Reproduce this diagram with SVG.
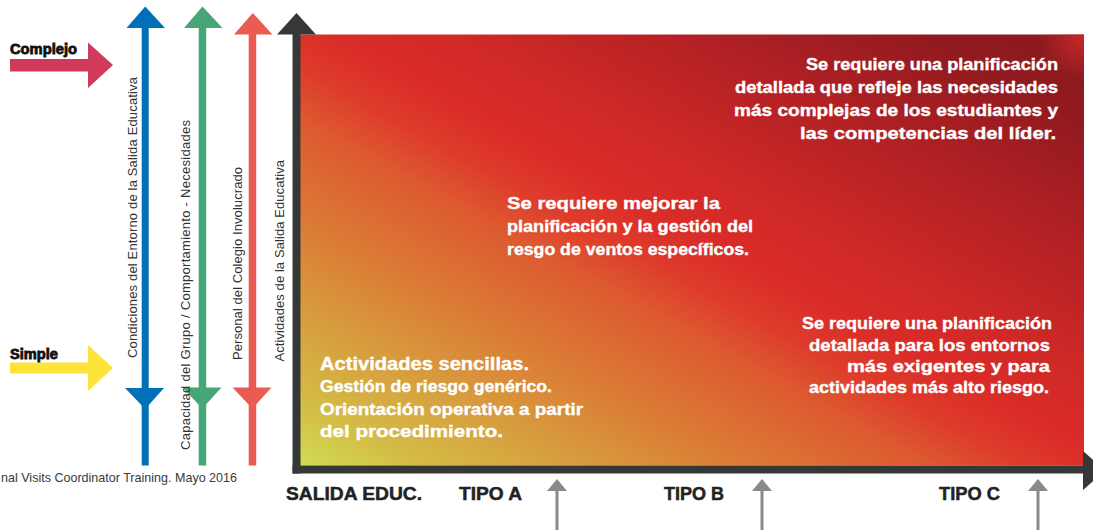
<svg xmlns="http://www.w3.org/2000/svg" width="1093" height="530" viewBox="0 0 1093 530">
<defs>
<linearGradient id="bg" x1="0" y1="1" x2="1" y2="0">
<stop offset="0" stop-color="#cfdc52"/>
<stop offset="0.08" stop-color="#d4bb45"/>
<stop offset="0.2" stop-color="#d8963c"/>
<stop offset="0.3" stop-color="#db7634"/>
<stop offset="0.4" stop-color="#dd5a30"/>
<stop offset="0.46" stop-color="#de3c2b"/>
<stop offset="0.52" stop-color="#da2c28"/>
<stop offset="0.6" stop-color="#d02927"/>
<stop offset="0.76" stop-color="#b02024"/>
<stop offset="0.9" stop-color="#911a1f"/>
<stop offset="1" stop-color="#8a1a1e"/>
</linearGradient>
<radialGradient id="hl" cx="1084" cy="35" r="45" gradientUnits="userSpaceOnUse">
<stop offset="0" stop-color="#d02a2a" stop-opacity="0.9"/>
<stop offset="1" stop-color="#d02a2a" stop-opacity="0"/>
</radialGradient>
<style>
.wt{font-family:"Liberation Sans",Arial,sans-serif;font-weight:bold;font-size:16px;fill:#ffffff;stroke:#ffffff;stroke-width:0.35}
.vt{font-family:"Liberation Sans",Arial,sans-serif;font-size:13px;fill:#333333}
.lbl{font-family:"Liberation Sans",Arial,sans-serif;font-weight:bold;font-size:14px;fill:#111111;stroke:#111111;stroke-width:0.8}
.ax{font-family:"Liberation Sans",Arial,sans-serif;font-weight:bold;font-size:19px;fill:#222222;stroke:#222222;stroke-width:0.5}
.dark{fill:#363838}
.gray{fill:#8a8a8a}
</style>
</defs>

<g id="field">
<rect x="300" y="34.5" width="784" height="431" fill="url(#bg)"/>
<rect x="1039" y="34.5" width="45" height="45" fill="url(#hl)"/>
</g>

<g id="connectors">
<g id="axis-y" class="dark">
<rect x="292.5" y="33" width="8" height="440.5"/>
<polygon points="277,34.5 316,34.5 296.5,13"/>
</g>
<g id="axis-x" class="dark">
<rect x="292.5" y="465.5" width="791" height="8"/>
<polygon points="1083,451 1083,490 1105,470.5"/>
</g>
<g id="arrow-complejo">
<rect x="10" y="59" width="79" height="12.5" fill="#d13a5a"/>
<polygon points="88,42.5 88,88 113,65" fill="#d13a5a"/>
</g>
<g id="arrow-simple">
<rect x="10" y="362.5" width="79" height="11" fill="#fde43a"/>
<polygon points="88,345 88,391 113,368" fill="#fde43a"/>
</g>
<g id="arrow-blue" fill="#0071b9">
<rect x="141.7" y="27" width="7" height="438.5"/>
<polygon points="126.5,28 165,28 145.2,6.5"/>
<polygon points="125,388 164,388 145.2,409"/>
</g>
<g id="arrow-green" fill="#47a678">
<rect x="198.7" y="27" width="7.5" height="438.5"/>
<polygon points="184,28 222.5,28 202.5,6.5"/>
<polygon points="182.5,387.5 221.5,387.5 202.3,408.5"/>
</g>
<g id="arrow-red" fill="#ea5b52">
<rect x="248.7" y="33.5" width="7.5" height="432"/>
<polygon points="234,34.5 272.5,34.5 252.8,13"/>
<polygon points="232.5,387.5 271.5,387.5 252.3,408.5"/>
</g>
<g id="tick-a" class="gray">
<rect x="555.5" y="489" width="3" height="41"/>
<polygon points="547,491 567,491 557,479"/>
</g>
<g id="tick-b" class="gray">
<rect x="760.5" y="489" width="3" height="41"/>
<polygon points="752,491 772,491 762,479"/>
</g>
<g id="tick-c" class="gray">
<rect x="1036.5" y="489" width="3" height="41"/>
<polygon points="1028,491 1048,491 1038,479"/>
</g>
</g>

<g id="label-complejo"><text class="lbl" x="10" y="54" textLength="67" lengthAdjust="spacingAndGlyphs">Complejo</text></g>
<g id="label-simple"><text class="lbl" x="10" y="358.5" textLength="48" lengthAdjust="spacingAndGlyphs">Simple</text></g>

<g id="vlabel-condiciones"><text class="vt" transform="translate(137,358) rotate(-90)" textLength="281">Condiciones del Entorno de  la  Salida  Educativa</text></g>
<g id="vlabel-capacidad"><text class="vt" transform="translate(190,450) rotate(-90)" textLength="330">Capacidad del Grupo / Comportamiento - Necesidades</text></g>
<g id="vlabel-personal"><text class="vt" transform="translate(241.5,360) rotate(-90)" textLength="193">Personal del Colegio Involucrado</text></g>
<g id="vlabel-actividades"><text class="vt" transform="translate(283.5,361.5) rotate(-90)" textLength="201.5">Actividades de la Salida Educativa</text></g>

<g id="footer"><text x="1" y="482" font-family="'Liberation Sans',Arial,sans-serif" font-size="13" fill="#3a3a3a" textLength="236" lengthAdjust="spacingAndGlyphs">nal Visits Coordinator Training. Mayo 2016</text></g>

<g id="block-c">
<text class="wt" x="806" y="69.5" textLength="252" lengthAdjust="spacingAndGlyphs">Se requiere una planificación</text>
<text class="wt" x="735" y="92.5" textLength="323" lengthAdjust="spacingAndGlyphs">detallada que refleje las necesidades</text>
<text class="wt" x="734" y="115.5" textLength="324" lengthAdjust="spacingAndGlyphs">más complejas de los estudiantes y</text>
<text class="wt" x="800" y="138.5" textLength="256" lengthAdjust="spacingAndGlyphs">las competencias del líder.</text>
</g>

<g id="block-b">
<text class="wt" x="507" y="208.5" textLength="213" lengthAdjust="spacingAndGlyphs">Se requiere mejorar la</text>
<text class="wt" x="507" y="231.5" textLength="246" lengthAdjust="spacingAndGlyphs">planificación y la gestión del</text>
<text class="wt" x="507" y="254.5" textLength="242" lengthAdjust="spacingAndGlyphs">resgo de ventos específicos.</text>
</g>

<g id="block-c2">
<text class="wt" x="802" y="328.5" textLength="250" lengthAdjust="spacingAndGlyphs">Se requiere una planificación</text>
<text class="wt" x="809" y="350.5" textLength="241" lengthAdjust="spacingAndGlyphs">detallada para los entornos</text>
<text class="wt" x="847" y="372" textLength="203" lengthAdjust="spacingAndGlyphs">más exigentes y para</text>
<text class="wt" x="809" y="393" textLength="240" lengthAdjust="spacingAndGlyphs">actividades más alto riesgo.</text>
</g>

<g id="block-a">
<text class="wt" x="320" y="369.5" style="font-size:17.5px" textLength="209" lengthAdjust="spacingAndGlyphs">Actividades sencillas.</text>
<text class="wt" x="320" y="392" textLength="232" lengthAdjust="spacingAndGlyphs">Gestión de riesgo genérico.</text>
<text class="wt" x="320" y="414.5" textLength="263" lengthAdjust="spacingAndGlyphs">Orientación operativa a partir</text>
<text class="wt" x="320" y="437" textLength="183" lengthAdjust="spacingAndGlyphs">del procedimiento.</text>
</g>

<g id="axis-labels">
<text class="ax" x="286" y="500" textLength="136" lengthAdjust="spacingAndGlyphs">SALIDA EDUC.</text>
<text class="ax" x="459" y="500" textLength="63" lengthAdjust="spacingAndGlyphs">TIPO A</text>
<text class="ax" x="664" y="500" textLength="60" lengthAdjust="spacingAndGlyphs">TIPO B</text>
<text class="ax" x="939" y="500" textLength="61" lengthAdjust="spacingAndGlyphs">TIPO C</text>
</g>
</svg>
